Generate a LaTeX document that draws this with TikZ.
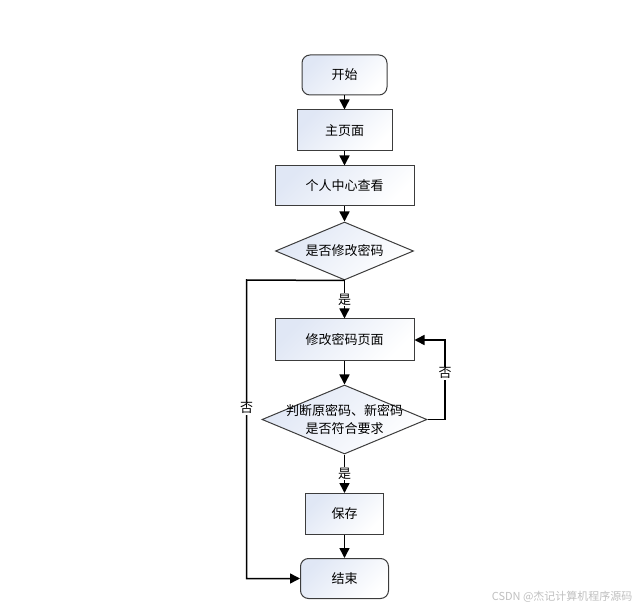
\documentclass[tikz,border=0pt]{standalone}
\usepackage{fontspec}
\setmainfont{Noto Sans CJK SC}
\usetikzlibrary{shapes.geometric,arrows.meta}
\definecolor{boxline}{RGB}{60,60,60}
\definecolor{boxtint}{RGB}{224,231,245}
\begin{document}
\begin{tikzpicture}[x=1pt,y=-1pt,
  font=\fontsize{13}{17.5}\selectfont,
  box/.style={draw=boxline, line width=1pt, inner sep=0pt,
    shading=axis, left color=boxtint, right color=white, shading angle=45},
  rbox/.style={box, rounded corners=8pt},
  dbox/.style={box, diamond},
  conn/.style={line width=1.5pt, -{Triangle[width=10pt,length=10pt]}},
  lab/.style={fill=white, inner sep=1pt}]
\useasboundingbox (0,0) rectangle (640,609);
\node[rbox, minimum width=85pt, minimum height=40pt] (start) at (344.5,75) {开始};
\node[box, minimum width=95pt, minimum height=41pt] (main) at (344.5,130.5) {主页面};
\node[box, minimum width=139pt, minimum height=40pt] (ucenter) at (344.5,186) {个人中心查看};
\node[dbox, minimum width=138pt, minimum height=58pt, label={center:是否修改密码}] (d1) at (344.5,251) {};
\node[box, minimum width=139pt, minimum height=42pt] (page) at (344.5,340) {修改密码页面};
\node[dbox, minimum width=165pt, minimum height=69pt, label={[align=center]center:判断原密码、新密码\\是否符合要求}] (d2) at (344.5,419.5) {};
\node[box, minimum width=78pt, minimum height=41pt] (save) at (344.5,514) {保存};
\node[rbox, minimum width=88pt, minimum height=40pt] (stop) at (344.5,578.5) {结束};
\coordinate (lc) at (246.5,280);
\coordinate (rc) at (445,419.5);
\draw[conn] (start) -- (main);
\draw[conn] (main) -- (ucenter);
\draw[conn] (ucenter) -- (d1);
\draw[conn] (d1.south) -- node[lab, pos=0.5] {是} (page);
\draw[conn] (d1.south) -- (lc) -- node[lab, pos=0.43] {否} (lc |- stop.west) -- (stop.west);
\draw[conn] (page) -- (d2);
\draw[conn] (d2.south) -- node[lab, pos=0.5] {是} (save);
\draw[conn] (save) -- (stop);
\draw[conn] (d2.east) -- (rc) -- node[lab, pos=0.58] {否} (rc |- page.east) -- (page.east);
\node[anchor=east, text=black!25, font=\fontsize{11}{13}\selectfont] (wm) at (636,597) {CSDN @杰记计算机程序源码};
\end{tikzpicture}
\end{document}
